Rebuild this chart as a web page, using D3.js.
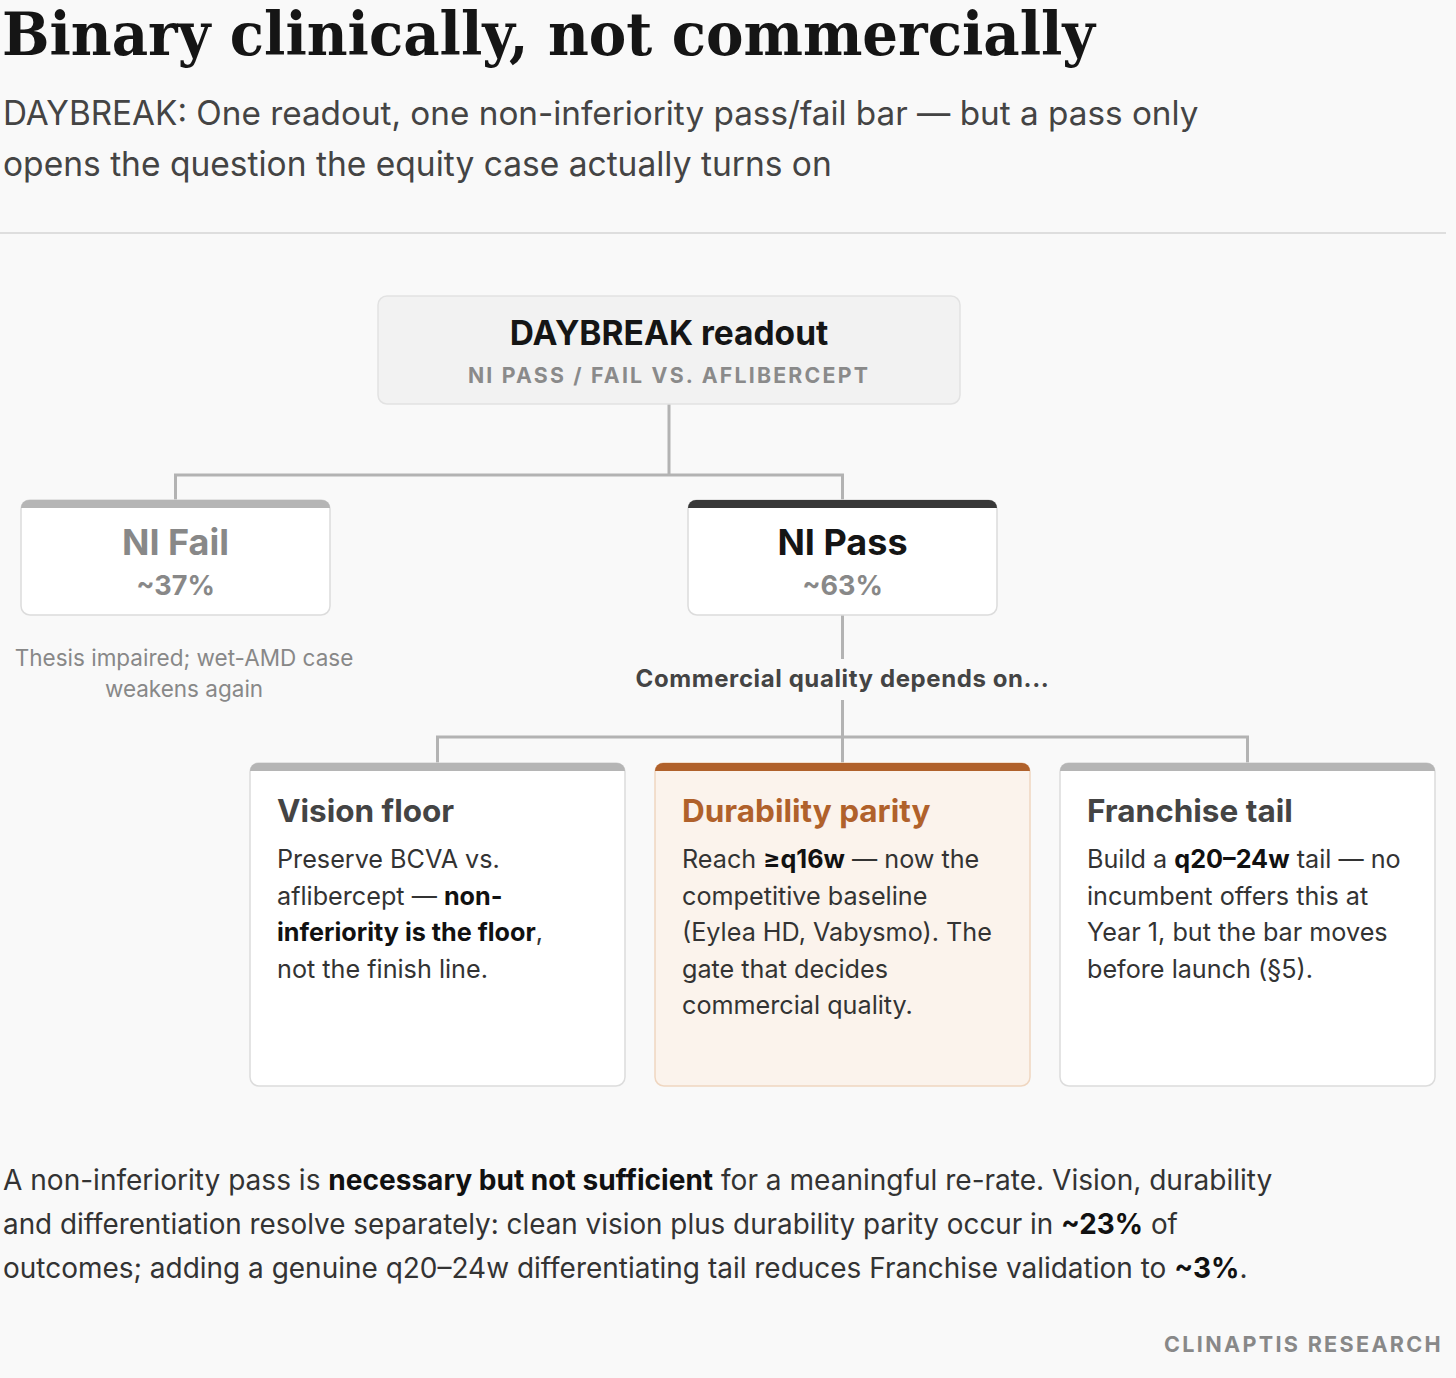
<!DOCTYPE html>
<html><head><meta charset="utf-8">
<script src="https://cdn.jsdelivr.net/npm/d3@7"></script>
<style>
html,body{margin:0;padding:0;background:#f9f9f9;}
svg{display:block;}
</style></head>
<body>
<svg id="c" width="1456" height="1378"></svg>
<script>
// ---------- data ----------
const title = "Binary clinically, not commercially";
const subtitleLines = [
  "DAYBREAK: One readout, one non-inferiority pass/fail bar \u2014 but a pass only",
  "opens the question the equity case actually turns on"
];
const rootLabel = "DAYBREAK readout";
const rootSub = "NI PASS / FAIL VS. AFLIBERCEPT";
const outcomeNames = ["NI Fail", "NI Pass"];
const outcomeProbs = [37, 63];
const failNote = ["Thesis impaired; wet-AMD case", "weakens again"];
const passNote = "Commercial quality depends on...";
const gateNames = ["Vision floor", "Durability parity", "Franchise tail"];
const gateBodies = [
  ["Preserve BCVA vs.", "aflibercept \u2014 **non-**", "**inferiority is the floor**,", "not the finish line."],
  ["Reach **\u2265q16w** \u2014 now the", "competitive baseline", "(Eylea HD, Vabysmo). The", "gate that decides", "commercial quality."],
  ["Build a **q20\u201324w** tail \u2014 no", "incumbent offers this at", "Year 1, but the bar moves", "before launch (\u00a75)."]
];
const highlightGate = "Durability parity";
const footerLines = [
  "A non-inferiority pass is **necessary but not sufficient** for a meaningful re-rate. Vision, durability",
  "and differentiation resolve separately: clean vision plus durability parity occur in **~23%** of",
  "outcomes; adding a genuine q20\u201324w differentiating tail reduces Franchise validation to **~3%**."
];
const source = "CLINAPTIS RESEARCH";

// ---------- setup ----------
const svg = d3.select("#c");
const SANS = "Inter, 'Noto Sans', sans-serif";
const SERIF = "'DejaVu Serif Condensed', 'DejaVu Serif', serif";
const LINE = "#b3b3b3";

function rich(textSel, str, boldColor) {
  const parts = str.split("**");
  parts.forEach((p, i) => {
    if (!p) return;
    const t = textSel.append("tspan").text(p);
    if (i % 2 === 1) { t.attr("font-weight", 700); if (boldColor) t.attr("fill", boldColor); }
  });
}
function fitWidth(sel, target) {
  const w = sel.node().getComputedTextLength();
  const fs = parseFloat(sel.attr("font-size"));
  sel.attr("font-size", fs * target / w);
}
function barPath(x, y, w, h, r) {
  return `M${x},${y + h} L${x},${y + r} A${r},${r} 0 0 1 ${x + r},${y} L${x + w - r},${y} A${r},${r} 0 0 1 ${x + w},${y + r} L${x + w},${y + h} Z`;
}

// ---------- header ----------
svg.append("text").attr("x", 2).attr("y", 55)
  .attr("font-family", SERIF).attr("font-stretch", "condensed").attr("font-weight", 700).attr("font-size", 59)
  .attr("textLength", 1093).attr("lengthAdjust", "spacingAndGlyphs")
  .attr("fill", "#151515").text(title);

const subW = [1196, 829];
subtitleLines.forEach((l, i) => {
  const s = svg.append("text").attr("x", 3).attr("y", 125 + i * 51)
    .attr("font-family", SANS).attr("font-size", 33).attr("fill", "#444").text(l);
  fitWidth(s, subW[i]);
});
svg.append("line").attr("x1", 0).attr("x2", 1446).attr("y1", 233).attr("y2", 233)
  .attr("stroke", "#dedede").attr("stroke-width", 2);

// ---------- scales ----------
const xOut = d3.scalePoint().domain(outcomeNames).range([175.5, 842.5]);
const xGate = d3.scaleBand().domain(gateNames).range([250, 1435]).paddingInner(30 / 405);
const rootX = 669;

// ---------- connectors ----------
const g = svg.append("g").attr("stroke", LINE).attr("stroke-width", 3).attr("fill", "none");
g.append("path").attr("d", `M${rootX},404 V475`);
g.append("path").attr("d", `M${xOut(outcomeNames[0])},500 V475 H${xOut(outcomeNames[1])} V500`);
const passX = xOut("NI Pass");
g.append("path").attr("d", `M${passX},615 V659`);
g.append("path").attr("d", `M${passX},700 V763`);
const gc = gateNames.map(n => xGate(n) + xGate.bandwidth() / 2);
g.append("path").attr("d", `M${gc[0]},763 V737 H${gc[2]} V763`);

// ---------- root ----------
svg.append("rect").attr("x", 378).attr("y", 296).attr("width", 582).attr("height", 108)
  .attr("rx", 9).attr("fill", "#f2f2f2").attr("stroke", "#e2e2e2").attr("stroke-width", 1.5);
svg.append("text").attr("x", rootX).attr("y", 345).attr("text-anchor", "middle")
  .attr("font-family", SANS).attr("font-weight", 700).attr("font-size", 33.5).attr("fill", "#151515")
  .text(rootLabel);
svg.append("text").attr("x", rootX).attr("y", 383).attr("text-anchor", "middle")
  .attr("font-family", SANS).attr("font-weight", 700).attr("font-size", 21.3).attr("letter-spacing", 2.2)
  .attr("fill", "#8a8a8a").text(rootSub);

// ---------- outcomes ----------
const boxW = 309, boxY = 500, boxH = 115;
const outs = svg.selectAll("g.out").data(outcomeNames).join("g").attr("class", "out");
outs.append("rect").attr("x", d => xOut(d) - boxW / 2).attr("y", boxY).attr("width", boxW).attr("height", boxH)
  .attr("rx", 9).attr("fill", "#fff").attr("stroke", "#dcdcdc").attr("stroke-width", 1.5);
outs.append("path").attr("d", d => barPath(xOut(d) - boxW / 2, boxY, boxW, 8, 8))
  .attr("fill", d => d === "NI Pass" ? "#383838" : "#b5b5b5");
outs.append("text").attr("x", d => xOut(d)).attr("y", 555).attr("text-anchor", "middle")
  .attr("font-family", SANS).attr("font-weight", 700).attr("font-size", 36)
  .attr("fill", d => d === "NI Pass" ? "#151515" : "#888").text(d => d);
outs.append("text").attr("x", d => xOut(d)).attr("y", 595).attr("text-anchor", "middle")
  .attr("font-family", SANS).attr("font-weight", 700).attr("font-size", 27)
  .attr("fill", "#888").text((d, i) => "~" + outcomeProbs[i] + "%");

svg.selectAll("text.fnote").data(failNote).join("text").attr("class", "fnote")
  .attr("x", 184).attr("y", (d, i) => 666 + i * 31).attr("text-anchor", "middle")
  .attr("font-family", SANS).attr("font-size", 22.5).attr("fill", "#888").text(d => d);

svg.append("text").attr("x", passX).attr("y", 687).attr("text-anchor", "middle")
  .attr("font-family", SANS).attr("font-weight", 700).attr("font-size", 24).attr("letter-spacing", 0.6)
  .attr("fill", "#444").text(passNote);

// ---------- gate cards ----------
const cardY = 763, cardH = 323;
const cards = svg.selectAll("g.card").data(gateNames).join("g").attr("class", "card");
cards.append("rect").attr("x", d => xGate(d)).attr("y", cardY).attr("width", xGate.bandwidth()).attr("height", cardH)
  .attr("rx", 9).attr("fill", d => d === highlightGate ? "#fbf3ec" : "#fff")
  .attr("stroke", d => d === highlightGate ? "#efd6c0" : "#dcdcdc").attr("stroke-width", 1.5);
cards.append("path").attr("d", d => barPath(xGate(d), cardY, xGate.bandwidth(), 8, 8))
  .attr("fill", d => d === highlightGate ? "#b0612b" : "#b5b5b5");
cards.append("text").attr("x", d => xGate(d) + 27).attr("y", 822)
  .attr("font-family", SANS).attr("font-weight", 700).attr("font-size", 31.5)
  .attr("fill", d => d === highlightGate ? "#b0612b" : "#444").text(d => d);
cards.each(function (d, i) {
  const sel = d3.select(this);
  gateBodies[i].forEach((line, j) => {
    const tx = sel.append("text").attr("x", xGate(d) + 27).attr("y", 868 + j * 36.6)
      .attr("font-family", SANS).attr("font-size", 25.2).attr("fill", "#333");
    rich(tx, line, "#111");
  });
});

// ---------- footer ----------
const footW = [1270, 1175, 1245];
footerLines.forEach((l, i) => {
  const tx = svg.append("text").attr("x", 3).attr("y", 1190 + i * 44)
    .attr("font-family", SANS).attr("font-size", 27.5).attr("fill", "#333");
  rich(tx, l, "#111");
  fitWidth(tx, footW[i]);
});
svg.append("text").attr("x", 1443).attr("y", 1352).attr("text-anchor", "end")
  .attr("font-family", SANS).attr("font-weight", 700).attr("font-size", 21.6).attr("letter-spacing", 2.3)
  .attr("fill", "#888").text(source);
</script>
</body></html>
